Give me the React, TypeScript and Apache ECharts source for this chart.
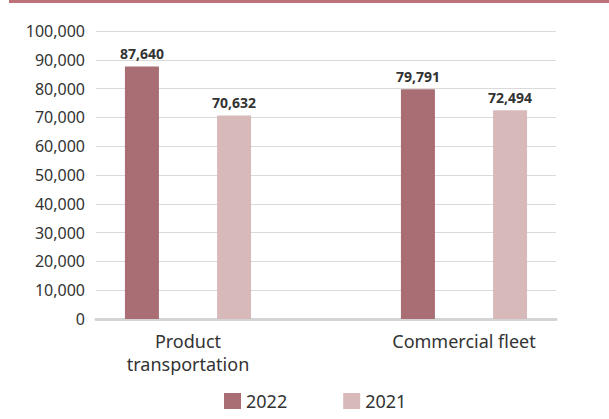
import React, { useEffect, useRef } from "react";
import * as echarts from "echarts";

const categories = ["Product\ntransportation", "Commercial fleet"];
const seriesNames = ["2022", "2021"];
const values2022 = [87640, 79791];
const values2021 = [70632, 72494];
const yTicks = { min: 0, max: 100000, interval: 10000 };
const colors = ["#a96d74", "#d8b9ba"];

const FONT = "'Noto Sans', sans-serif";

export default function App() {
  const ref = useRef<HTMLDivElement>(null);
  useEffect(() => {
    if (!ref.current) return;
    const chart = echarts.init(ref.current, null, { renderer: "svg" });
    const fmt = (v: number) => v.toLocaleString("en-US");
    const valueLabel = {
      show: true,
      position: "top",
      distance: 6,
      formatter: (p: any) => fmt(p.value),
      fontFamily: FONT,
      fontWeight: "bold",
      fontSize: 14,
      color: "#333333",
    };
    chart.setOption({
      animation: false,
      backgroundColor: "#ffffff",
      textStyle: { fontFamily: FONT },
      graphic: [
        { type: "rect", shape: { x: 9, y: 0, width: 600, height: 3 }, style: { fill: "#bd727a" } },
      ],
      grid: [
        { left: 96, right: 53, top: 31, bottom: 100 },
        { left: 50, right: 7, top: 31, bottom: 100 },
      ],
      legend: {
        data: seriesNames,
        left: 224,
        top: 392,
        padding: 0,
        itemWidth: 17,
        itemHeight: 16,
        itemGap: 56,
        icon: "rect",
        textStyle: { fontFamily: FONT, fontSize: 18, color: "#333333" },
      },
      xAxis: [
        {
          gridIndex: 0,
          type: "category",
          data: categories,
          axisLabel: { show: false },
          axisTick: { show: false },
          axisLine: { show: true, lineStyle: { color: "#d4d4d4", width: 3 } },
        },
        {
          gridIndex: 1,
          type: "category",
          data: categories,
          axisTick: { show: false },
          axisLine: { show: false },
          axisLabel: {
            fontFamily: FONT,
            fontSize: 18,
            color: "#333333",
            margin: 10,
            lineHeight: 23,
            interval: 0,
          },
        },
      ],
      yAxis: [
        {
          gridIndex: 0,
          type: "value",
          min: yTicks.min,
          max: yTicks.max,
          interval: yTicks.interval,
          axisLabel: { formatter: fmt, fontFamily: FONT, fontSize: 16, color: "#333333", margin: 11 },
          splitLine: { lineStyle: { color: "#dadada", width: 1 } },
          axisLine: { show: false },
          axisTick: { show: false },
        },
        {
          gridIndex: 1,
          type: "value",
          min: yTicks.min,
          max: yTicks.max,
          interval: yTicks.interval,
          show: false,
          splitLine: { show: false },
        },
      ],
      series: [
        {
          name: seriesNames[0],
          type: "bar",
          xAxisIndex: 1,
          yAxisIndex: 1,
          data: values2022,
          barWidth: 34,
          barGap: "171%",
          itemStyle: { color: colors[0] },
          label: valueLabel,
        },
        {
          name: seriesNames[1],
          type: "bar",
          xAxisIndex: 1,
          yAxisIndex: 1,
          data: values2021,
          barWidth: 34,
          barGap: "171%",
          itemStyle: { color: colors[1] },
          label: valueLabel,
        },
      ],
    });
    return () => chart.dispose();
  }, []);
  return (
    <div
      ref={ref}
      style={{ position: "fixed", left: 0, top: 0, width: 609, height: 419 }}
    />
  );
}
